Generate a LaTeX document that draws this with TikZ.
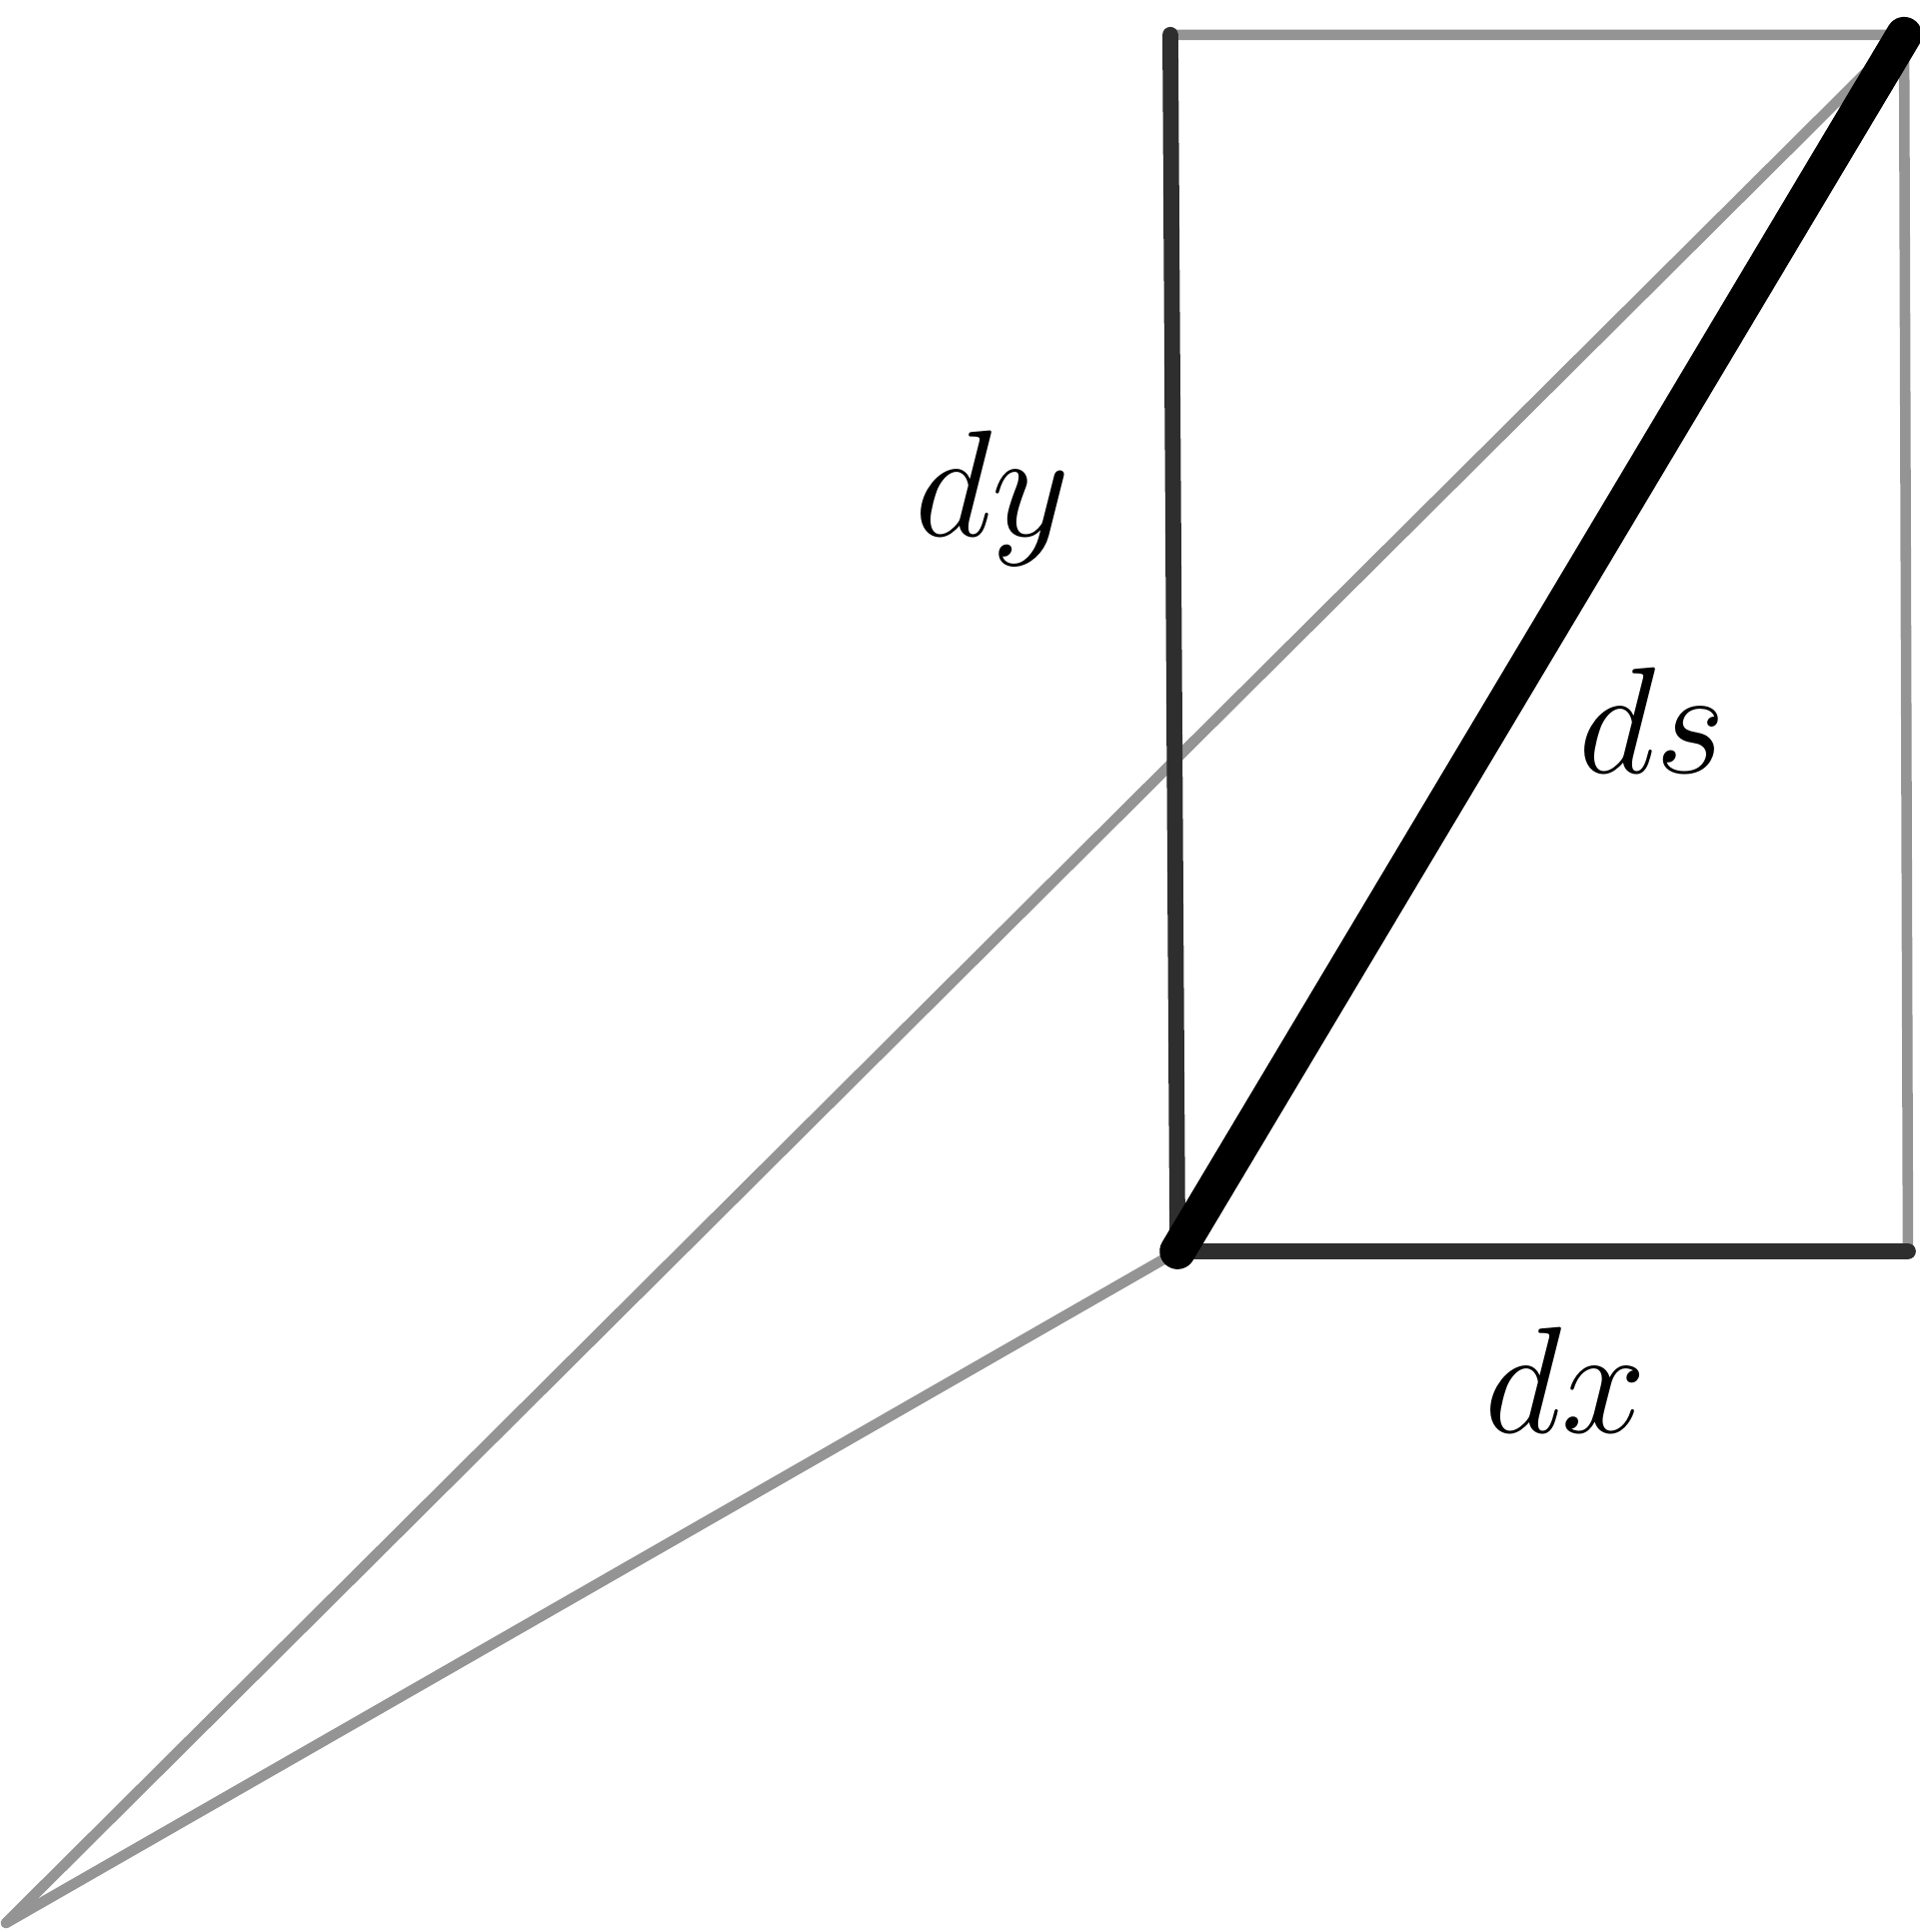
\documentclass[tikz,border=0pt]{standalone}
\usepackage{amsmath}

\begin{document}
\begin{tikzpicture}[line cap=round,
                faint/.style={line width=1pt, black!42},
                side/.style={line width=1.5pt, black!82},
                arc/.style={line width=3.4pt, black}]
                \useasboundingbox (0,0) rectangle (6.4,6.443);
                \coordinate (O) at (0.02,0.03);
                \coordinate (P) at (3.927,2.27);
                \coordinate (Q) at (6.363,2.27);
                \coordinate (R) at (6.35,6.327);
                \coordinate (S) at (3.903,6.327);
                \draw [faint] (O) -- (R);
                \draw [faint] (O) -- (P);
                \draw [faint] (S) -- (R) -- (Q);
                \draw [side] (S) -- (P) -- (Q);
                \draw [arc] (P) -- (R);
                \draw (3.31,4.78) node (dylab) {\Large $dy$};
                \draw (5.51,4.04) node (dslab) {\Large $ds$};
                \draw (5.22,1.84) node (dxlab) {\Large $dx$};
            \end{tikzpicture}
\end{document}
